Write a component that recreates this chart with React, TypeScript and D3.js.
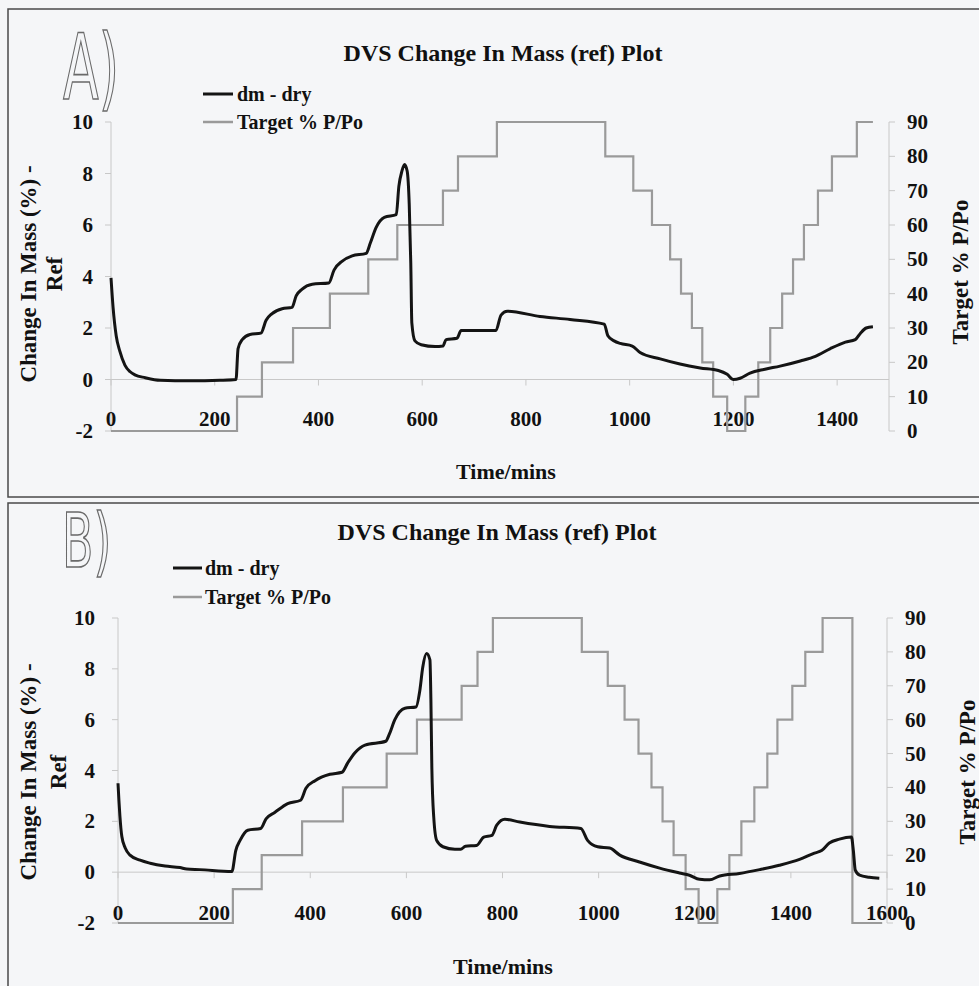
import React from 'react';
import * as d3 from 'd3';

const W = 979;
const H = 986;

const chartTitle = 'DVS Change In Mass (ref) Plot';
const seriesNames = ['dm - dry', 'Target % P/Po'];
const xAxisTitle = 'Time/mins';
const yAxisTitleLines = ['Change In Mass (%) -', 'Ref'];
const y2AxisTitle = 'Target % P/Po';

const massTicks = [-2, 0, 2, 4, 6, 8, 10];
const rhTicks = [0, 10, 20, 30, 40, 50, 60, 70, 80, 90];
const timeTicksA = [0, 200, 400, 600, 800, 1000, 1200, 1400];
const timeTicksB = [0, 200, 400, 600, 800, 1000, 1200, 1400, 1600];

// Panel A — change in mass
const dmTimeA = [0, 4, 10, 17, 27, 37, 46, 66, 95, 152, 210, 241, 245, 253, 268, 289, 299, 310, 330, 349, 357, 368, 388, 420, 430, 446, 465, 492, 500, 511, 527, 550, 555, 561, 566, 571, 575, 578, 580, 586, 598, 625, 640, 646, 667, 675, 742, 752, 764, 827, 885, 951, 958, 970, 982, 1005, 1020, 1059, 1097, 1136, 1171, 1188, 1200, 1213, 1232, 1261, 1290, 1329, 1358, 1387, 1416, 1435, 1445, 1456, 1469];
const dmValueA = [3.95, 2.8, 1.7, 1.1, 0.55, 0.3, 0.18, 0.07, -0.03, -0.05, -0.03, 0.0, 1.2, 1.55, 1.75, 1.8, 2.3, 2.55, 2.75, 2.8, 3.25, 3.5, 3.7, 3.75, 4.25, 4.6, 4.8, 4.9, 5.3, 5.9, 6.3, 6.4, 7.5, 8.1, 8.35, 8.1, 6.8, 4.5, 2.2, 1.5, 1.35, 1.28, 1.3, 1.55, 1.6, 1.9, 1.9, 2.5, 2.65, 2.45, 2.33, 2.15, 1.7, 1.5, 1.4, 1.3, 1.05, 0.8, 0.6, 0.45, 0.35, 0.2, 0.0, 0.05, 0.25, 0.4, 0.52, 0.72, 0.9, 1.2, 1.45, 1.55, 1.8, 2.0, 2.05];
// Panel A — target RH steps
const targetTimeA = [0, 243, 291, 351, 422, 496, 552, 640, 669, 744, 953, 1007, 1043, 1078, 1099, 1120, 1140, 1161, 1188, 1223, 1248, 1271, 1294, 1315, 1336, 1363, 1390, 1438, 1469];
const targetRhA = [0, 10, 20, 30, 40, 50, 60, 70, 80, 90, 80, 70, 60, 50, 40, 30, 20, 10, 0, 10, 20, 30, 40, 50, 60, 70, 80, 90, 90];

// Panel B — change in mass
const dmTimeB = [0, 2, 4, 8, 15, 25, 46, 67, 98, 129, 143, 170, 237, 245, 254, 270, 297, 308, 326, 353, 380, 391, 410, 441, 466, 478, 493, 514, 557, 565, 576, 597, 620, 628, 634, 642, 649, 651, 653, 657, 663, 676, 701, 713, 723, 746, 761, 778, 788, 805, 836, 898, 963, 977, 998, 1023, 1044, 1085, 1127, 1168, 1189, 1210, 1231, 1252, 1293, 1335, 1376, 1418, 1449, 1464, 1480, 1501, 1526, 1530, 1534, 1543, 1563, 1584];
const dmValueB = [3.5, 2.8, 2.2, 1.4, 0.95, 0.67, 0.47, 0.35, 0.24, 0.18, 0.12, 0.1, 0.03, 0.85, 1.25, 1.65, 1.72, 2.1, 2.35, 2.7, 2.83, 3.3, 3.6, 3.85, 3.93, 4.3, 4.7, 5.0, 5.15, 5.45, 6.0, 6.45, 6.5, 7.15, 8.05, 8.6, 8.35, 6.8, 4.1, 2.15, 1.25, 1.0, 0.9, 0.9, 1.02, 1.05, 1.38, 1.45, 1.85, 2.08, 1.97, 1.8, 1.72, 1.25, 1.0, 0.95, 0.67, 0.4, 0.16, -0.03, -0.12, -0.28, -0.3, -0.15, -0.05, 0.1, 0.27, 0.5, 0.75, 0.85, 1.15, 1.3, 1.38, 0.85, 0.08, -0.12, -0.2, -0.24];
// Panel B — target RH steps
const targetTimeB = [0, 239, 299, 383, 468, 559, 622, 715, 748, 780, 965, 1019, 1054, 1083, 1110, 1133, 1156, 1181, 1208, 1247, 1272, 1297, 1324, 1351, 1372, 1403, 1430, 1466, 1528, 1590];
const targetRhB = [0, 10, 20, 30, 40, 50, 60, 70, 80, 90, 80, 70, 60, 50, 40, 30, 20, 10, 0, 10, 20, 30, 40, 50, 60, 70, 80, 90, 0, 0];

const FONT = '"Liberation Serif", "Times New Roman", serif';
const DM_COLOR = '#141414';
const TARGET_COLOR = '#9a9a9a';
const AXIS_COLOR = '#c8c8c8';

type Layout = {
  box: [number, number, number, number];
  left: number; right: number; top: number; bottom: number;
  xMax: number;
  titleX: number; titleY: number;
  legendX1: number; legendX2: number; legendY1: number; legendY2: number; legendTextX: number;
  tag: string; tagX: number; tagY: number; tagSize: number; tagScale: number;
  xLabelY: number; xTitleX: number; xTitleY: number;
  yTitleX1: number; yTitleX2: number; yTitleCy: number;
  y2TitleX: number; y2TitleCy: number;
  leftLabelEnd: number; rightLabelStart: number;
};

const layoutA: Layout = {
  box: [8, 9, 990, 488],
  left: 111, right: 889, top: 122, bottom: 431, xMax: 1500,
  titleX: 503, titleY: 61,
  legendX1: 203, legendX2: 233, legendY1: 94, legendY2: 122, legendTextX: 237,
  tag: 'A)', tagX: 63, tagY: 99, tagSize: 90, tagScale: 0.58,
  xLabelY: 426, xTitleX: 506, xTitleY: 479,
  yTitleX1: 28, yTitleX2: 54, yTitleCy: 274,
  y2TitleX: 960, y2TitleCy: 272,
  leftLabelEnd: 93, rightLabelStart: 907,
};

const layoutB: Layout = {
  box: [8, 503, 990, 500],
  left: 118, right: 887, top: 618, bottom: 923, xMax: 1600,
  titleX: 497, titleY: 540,
  legendX1: 173, legendX2: 202, legendY1: 568, legendY2: 597, legendTextX: 205,
  tag: 'B)', tagX: 62, tagY: 567, tagSize: 74, tagScale: 0.62,
  xLabelY: 920, xTitleX: 503, xTitleY: 974,
  yTitleX1: 28, yTitleX2: 58, yTitleCy: 772,
  y2TitleX: 967, y2TitleCy: 772,
  leftLabelEnd: 95, rightLabelStart: 905,
};

function Panel({ L, timeTicks, dmTime, dmValue, targetTime, targetRh }: {
  L: Layout; timeTicks: number[]; dmTime: number[]; dmValue: number[]; targetTime: number[]; targetRh: number[];
}) {
  const x = d3.scaleLinear().domain([0, L.xMax]).range([L.left, L.right]);
  const y = d3.scaleLinear().domain([-2, 10]).range([L.bottom, L.top]);
  const y2 = d3.scaleLinear().domain([0, 90]).range([L.bottom, L.top]);

  const dmPts: [number, number][] = dmTime.map((t, i) => [t, dmValue[i]]);
  const tgPts: [number, number][] = targetTime.map((t, i) => [t, targetRh[i]]);

  const dmLine = d3.line<[number, number]>().x(d => x(d[0])).y(d => y(d[1])).curve(d3.curveMonotoneX);
  const tgLine = d3.line<[number, number]>().x(d => x(d[0])).y(d => y2(d[1])).curve(d3.curveStepAfter);

  const [bx, by, bw, bh] = L.box;
  const y0 = y(0);

  return (
    <g>
      <rect x={bx} y={by} width={bw} height={bh} fill="none" stroke="#4a4a4a" strokeWidth={1.5} />
      <text
        transform={`translate(${L.tagX},${L.tagY}) scale(${L.tagScale},1)`}
        fontFamily='"DejaVu Sans", sans-serif' fontSize={L.tagSize}
        fill="none" stroke="#6a6a6a" strokeWidth={1.4} style={{ vectorEffect: 'non-scaling-stroke' } as any}
      >{L.tag}</text>
      <text x={L.titleX} y={L.titleY} textAnchor="middle" fontFamily={FONT} fontWeight="bold" fontSize={24} fill="#111">{chartTitle}</text>

      <line x1={L.legendX1} x2={L.legendX2} y1={L.legendY1} y2={L.legendY1} stroke={DM_COLOR} strokeWidth={3} />
      <text x={L.legendTextX} y={L.legendY1} dominantBaseline="central" fontFamily={FONT} fontWeight="bold" fontSize={20} fill="#111">{seriesNames[0]}</text>
      <line x1={L.legendX1} x2={L.legendX2} y1={L.legendY2} y2={L.legendY2} stroke={TARGET_COLOR} strokeWidth={2.5} />
      <text x={L.legendTextX} y={L.legendY2} dominantBaseline="central" fontFamily={FONT} fontWeight="bold" fontSize={20} fill="#111">{seriesNames[1]}</text>

      <line x1={L.left} x2={L.left} y1={L.top} y2={L.bottom} stroke={AXIS_COLOR} strokeWidth={1} />
      <line x1={L.right} x2={L.right} y1={L.top} y2={L.bottom} stroke={AXIS_COLOR} strokeWidth={1} />
      <line x1={L.left} x2={L.right} y1={y0} y2={y0} stroke={AXIS_COLOR} strokeWidth={1} />

      {massTicks.map(v => (
        <g key={'m' + v}>
          <line x1={L.left - 6} x2={L.left} y1={y(v)} y2={y(v)} stroke={AXIS_COLOR} strokeWidth={1} />
          <text x={L.leftLabelEnd} y={y(v)} textAnchor="end" dominantBaseline="central" fontFamily={FONT} fontWeight="bold" fontSize={21} fill="#111">{v}</text>
        </g>
      ))}
      {rhTicks.map(v => (
        <g key={'r' + v}>
          <line x1={L.right} x2={L.right + 6} y1={y2(v)} y2={y2(v)} stroke={AXIS_COLOR} strokeWidth={1} />
          <text x={L.rightLabelStart} y={y2(v)} textAnchor="start" dominantBaseline="central" fontFamily={FONT} fontWeight="bold" fontSize={21} fill="#111">{v}</text>
        </g>
      ))}
      {timeTicks.map(v => (
        <g key={'t' + v}>
          <line x1={x(v)} x2={x(v)} y1={y0} y2={y0 + 6} stroke={AXIS_COLOR} strokeWidth={1} />
          <text x={x(v)} y={L.xLabelY} textAnchor="middle" fontFamily={FONT} fontWeight="bold" fontSize={21} fill="#111">{v}</text>
        </g>
      ))}

      <text x={L.xTitleX} y={L.xTitleY} textAnchor="middle" fontFamily={FONT} fontWeight="bold" fontSize={22} fill="#111">{xAxisTitle}</text>
      <text transform={`translate(${L.yTitleX1},${L.yTitleCy}) rotate(-90)`} textAnchor="middle" dominantBaseline="central" fontFamily={FONT} fontWeight="bold" fontSize={23} fill="#111">{yAxisTitleLines[0]}</text>
      <text transform={`translate(${L.yTitleX2},${L.yTitleCy}) rotate(-90)`} textAnchor="middle" dominantBaseline="central" fontFamily={FONT} fontWeight="bold" fontSize={23} fill="#111">{yAxisTitleLines[1]}</text>
      <text transform={`translate(${L.y2TitleX},${L.y2TitleCy}) rotate(-90)`} textAnchor="middle" dominantBaseline="central" fontFamily={FONT} fontWeight="bold" fontSize={23} fill="#111">{y2AxisTitle}</text>

      <path d={tgLine(tgPts) || ''} fill="none" stroke={TARGET_COLOR} strokeWidth={2.2} />
      <path d={dmLine(dmPts) || ''} fill="none" stroke={DM_COLOR} strokeWidth={3} strokeLinejoin="round" />
    </g>
  );
}

export default function App() {
  return (
    <svg width={W} height={H} viewBox={`0 0 ${W} ${H}`} style={{ position: 'absolute', left: 0, top: 0, display: 'block' }}>
      <rect x={0} y={0} width={W} height={H} fill="#f5f6f8" />
      <Panel L={layoutA} timeTicks={timeTicksA} dmTime={dmTimeA} dmValue={dmValueA} targetTime={targetTimeA} targetRh={targetRhA} />
      <Panel L={layoutB} timeTicks={timeTicksB} dmTime={dmTimeB} dmValue={dmValueB} targetTime={targetTimeB} targetRh={targetRhB} />
    </svg>
  );
}
